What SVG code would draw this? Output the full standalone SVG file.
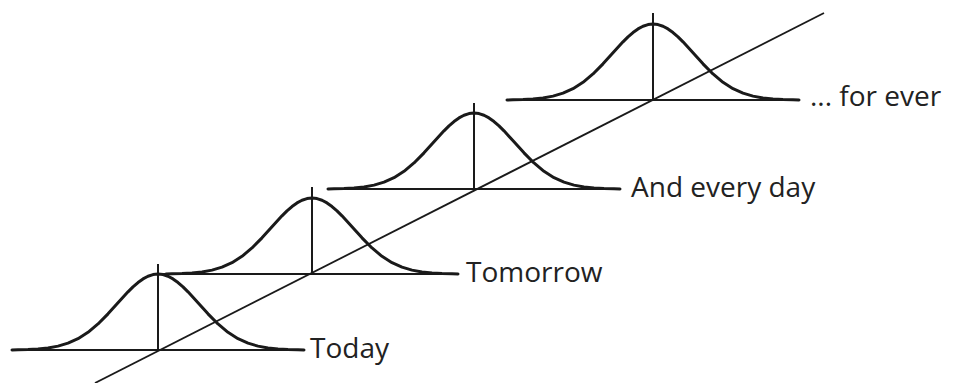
<svg xmlns="http://www.w3.org/2000/svg" xmlns:xlink="http://www.w3.org/1999/xlink" width="960" height="383" viewBox="0 0 960 383">
  <style>
    .curve { fill: none; stroke: #1a1a1a; stroke-width: 3; stroke-linejoin: round; stroke-linecap: round; }
    .base { stroke: #1a1a1a; stroke-width: 2.2; }
    .axis { stroke: #1a1a1a; stroke-width: 2; }
    .diag { stroke: #1a1a1a; stroke-width: 1.8; }
    .label { font-family: "Open Sans", "Liberation Sans", Arial, sans-serif; font-size: 28px; fill: #222; }
  </style>
  <defs>
    <polyline id="bell" class="curve" points="-146,0 -140,-0.22 -130,-0.5 -120,-1.05 -110,-2.08 -100,-3.88 -90,-6.83 -80,-11.32 -70,-17.69 -60,-26.05 -50,-36.13 -40,-47.22 -30,-58.15 -25,-63.11 -20,-67.47 -15,-71.08 -10,-73.77 -5,-75.44 0,-76 5,-75.44 10,-73.77 15,-71.08 20,-67.47 25,-63.11 30,-58.15 40,-47.22 50,-36.13 60,-26.05 70,-17.69 80,-11.32 90,-6.83 100,-3.88 110,-2.08 120,-1.05 130,-0.5 140,-0.22 146,0"/>
  </defs>

  <g id="today">
    <line class="base" x1="12" y1="350" x2="305" y2="350"/>
    <line class="axis" x1="158" y1="264" x2="158" y2="350"/>
    <use xlink:href="#bell" href="#bell" transform="translate(158,350)"/>
    <text class="label" x="310" y="358">Today</text>
  </g>

  <g id="tomorrow">
    <line class="base" x1="160" y1="274" x2="457" y2="274"/>
    <line class="axis" x1="312" y1="187" x2="312" y2="274"/>
    <use xlink:href="#bell" href="#bell" transform="translate(312,274)"/>
    <text class="label" x="466" y="282">Tomorrow</text>
  </g>

  <g id="every-day">
    <line class="base" x1="327" y1="189" x2="620" y2="189"/>
    <line class="axis" x1="474" y1="103" x2="474" y2="189"/>
    <use xlink:href="#bell" href="#bell" transform="translate(474,189)"/>
    <text class="label" x="631" y="197">And every day</text>
  </g>

  <g id="for-ever">
    <line class="base" x1="507" y1="100" x2="797" y2="100"/>
    <line class="axis" x1="653" y1="13" x2="653" y2="100"/>
    <use xlink:href="#bell" href="#bell" transform="translate(653,100)"/>
    <text class="label" x="810" y="106">... for ever</text>
  </g>

  <g id="connectors">
    <line class="diag" x1="95" y1="383" x2="824" y2="13"/>
  </g>
</svg>
